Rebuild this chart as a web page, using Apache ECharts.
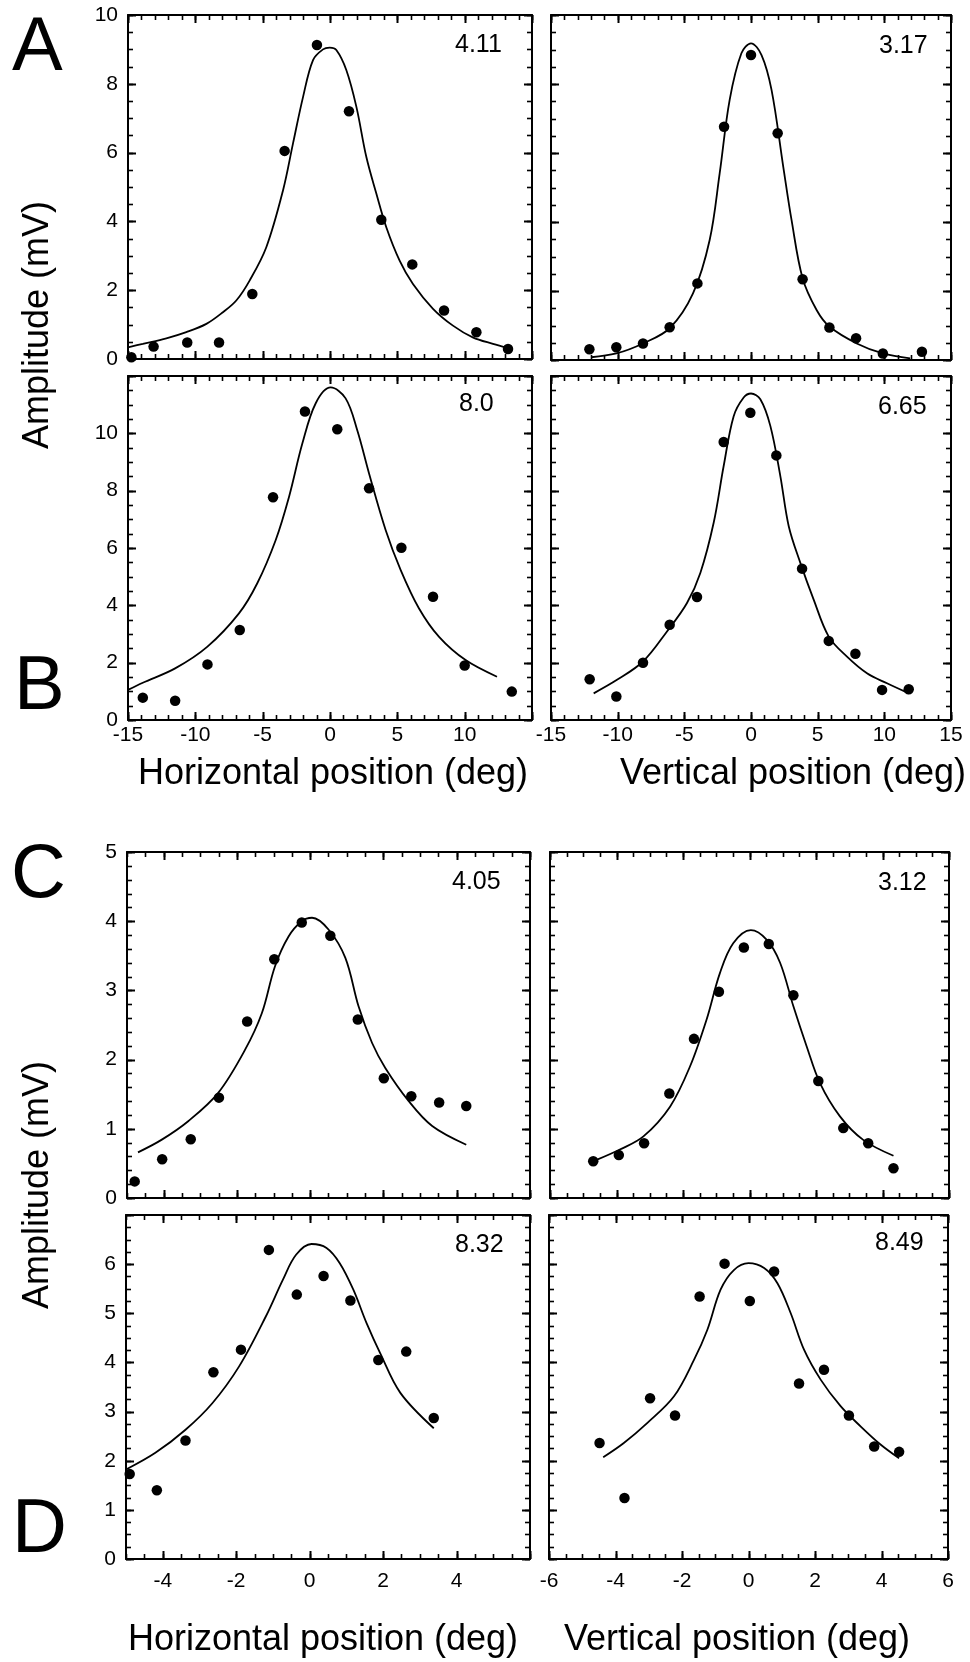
<!DOCTYPE html>
<html><head><meta charset="utf-8">
<script src="https://cdn.jsdelivr.net/npm/echarts@6/dist/echarts.min.js"></script>
<style>html,body{margin:0;padding:0;background:#fff}#c{width:970px;height:1662px}</style>
</head><body><div id="c"></div>
<script>
// ---------- DATA ----------
// Panel A (top row), horizontal and vertical position
const aHorPts = [[-14.75,0.05],[-13.1,0.36],[-10.6,0.48],[-8.24,0.48],[-5.77,1.89],[-3.37,6.05],[-0.97,9.13],[1.41,7.2],[3.81,4.05],[6.11,2.75],[8.47,1.41],[10.87,0.78],[13.22,0.29]];
const aHorFit = [[-15,0.34],[-13.9,0.44],[-12.15,0.6],[-10.67,0.78],[-9.18,1.02],[-7.95,1.36],[-6.96,1.7],[-5.97,2.28],[-4.73,3.25],[-3.49,4.9],[-2.75,6.26],[-2.0,7.62],[-1.26,8.69],[-0.52,9.0],[-0.02,9.05],[0.47,8.98],[1.21,8.4],[1.96,7.33],[2.7,5.87],[3.44,4.81],[4.18,3.83],[5.17,2.86],[6.16,2.18],[7.65,1.46],[9.13,0.97],[10.6,0.63],[12.1,0.44],[13.22,0.32]];
const aVerPts = [[-12.12,0.31],[-10.1,0.37],[-8.1,0.48],[-6.1,0.95],[-4.02,2.22],[-2.02,6.76],[0,8.84],[2.0,6.57],[3.87,2.34],[5.88,0.94],[7.88,0.63],[9.89,0.19],[12.82,0.24]];
const aVerFit = [[-12.0,0.08],[-10.1,0.19],[-8.1,0.48],[-6.1,0.92],[-4.35,1.93],[-3.1,3.48],[-2.35,5.41],[-1.6,7.54],[-0.72,8.89],[0,9.18],[0.79,8.84],[1.54,7.83],[2.42,5.6],[3.04,4.06],[3.87,2.37],[4.92,1.45],[5.88,0.97],[7.93,0.48],[9.89,0.19],[11.94,0.05]];
// Panel B
const bHorPts = [[-13.9,0.78],[-11.5,0.67],[-9.1,1.94],[-6.7,3.14],[-4.23,7.77],[-1.86,10.76],[0.54,10.14],[2.9,8.08],[5.3,6.01],[7.65,4.3],[10.0,1.9],[13.5,0.99]];
const bHorFit = [[-15,1.05],[-13.9,1.3],[-11.5,1.8],[-9.1,2.56],[-6.76,3.72],[-5.4,4.77],[-4.03,6.28],[-3.04,7.79],[-2.05,9.65],[-1.06,11.05],[0.05,11.6],[1.16,11.22],[2.03,10.1],[2.9,8.6],[4.13,6.63],[5.25,5.23],[6.6,3.9],[8.1,2.9],[10.07,2.09],[12.4,1.51]];
const bVerPts = [[-12.1,1.42],[-10.1,0.82],[-8.1,2.0],[-6.1,3.32],[-4.05,4.29],[-2.05,9.7],[-0.05,10.72],[1.9,9.23],[3.83,5.28],[5.83,2.76],[7.83,2.31],[9.83,1.05],[11.83,1.07]];
const bVerFit = [[-11.8,0.93],[-10.05,1.4],[-8.1,2.04],[-6.3,3.09],[-4.8,4.08],[-3.8,5.13],[-2.8,6.88],[-2.05,8.86],[-1.3,10.6],[-0.55,11.25],[0,11.39],[0.7,11.19],[1.45,10.26],[2.2,8.51],[2.83,6.76],[3.7,5.48],[4.7,4.2],[5.83,2.91],[7.2,2.21],[8.7,1.63],[10.2,1.28],[11.83,0.93]];
// Panel C
const cHorPts = [[-4.79,0.24],[-4.04,0.56],[-3.26,0.85],[-2.49,1.45],[-1.72,2.55],[-0.98,3.45],[-0.23,3.98],[0.55,3.79],[1.3,2.58],[2.01,1.73],[2.76,1.47],[3.52,1.38],[4.26,1.33]];
const cHorFit = [[-4.7,0.66],[-4.06,0.84],[-3.33,1.11],[-2.51,1.52],[-1.78,2.14],[-1.32,2.67],[-0.96,3.35],[-0.59,3.78],[-0.23,4.0],[0.05,4.05],[0.5,3.88],[0.96,3.47],[1.32,2.77],[1.69,2.24],[2.05,1.88],[2.69,1.4],[3.33,1.04],[4.26,0.77]];
const cVerPts = [[-4.7,0.53],[-3.93,0.62],[-3.17,0.79],[-2.41,1.51],[-1.67,2.3],[-0.92,2.98],[-0.17,3.62],[0.58,3.67],[1.32,2.93],[2.07,1.69],[2.82,1.01],[3.57,0.79],[4.33,0.43]];
const cVerFit = [[-4.6,0.55],[-3.9,0.7],[-3.19,0.89],[-2.39,1.32],[-1.79,1.9],[-1.29,2.58],[-0.89,3.25],[-0.49,3.68],[0.04,3.87],[0.52,3.73],[0.92,3.4],[1.32,2.77],[1.72,2.19],[2.12,1.66],[2.72,1.18],[3.42,0.84],[4.33,0.61]];
// Panel D
const dHorPts = [[-4.9,1.73],[-4.16,1.4],[-3.38,2.41],[-2.62,3.8],[-1.87,4.26],[-1.11,6.29],[-0.35,5.38],[0.38,5.76],[1.11,5.26],[1.87,4.05],[2.63,4.22],[3.38,2.87]];
const dHorFit = [[-5.0,1.82],[-4.2,2.16],[-3.38,2.63],[-2.65,3.17],[-1.92,3.92],[-1.19,4.94],[-0.73,5.68],[-0.37,6.19],[0.05,6.41],[0.46,6.33],[0.82,6.02],[1.19,5.48],[1.55,4.8],[1.92,4.19],[2.47,3.38],[3.38,2.66]];
const dVerPts = [[-4.48,2.36],[-3.73,1.24],[-2.96,3.27],[-2.21,2.92],[-1.47,5.34],[-0.72,6.01],[0.04,5.25],[0.77,5.85],[1.52,3.57],[2.27,3.85],[3.02,2.92],[3.78,2.29],[4.53,2.18]];
const dVerFit = [[-4.37,2.07],[-3.75,2.36],[-3.04,2.77],[-2.24,3.31],[-1.64,4.05],[-1.24,4.66],[-0.84,5.48],[-0.44,5.88],[0,6.02],[0.47,5.92],[0.87,5.61],[1.27,5.0],[1.67,4.26],[2.17,3.65],[2.77,3.11],[3.37,2.7],[3.97,2.33],[4.53,2.05]];

// Tick labels and major tick positions
const xLabelsWideL = [-15,-10,-5,0,5,10];
const xLabelsWideR = [-15,-10,-5,0,5,10,15];
const xMajorWide = [-15,-10,-5,0,5,10,15];
const xLabelsNarrowL = [-4,-2,0,2,4];
const xMajorNarrowL = [-4,-2,0,2,4,6];
const xLabelsNarrowR = [-6,-4,-2,0,2,4,6];
const yLabelsA = [0,2,4,6,8,10];
const yMajorA = [0,2,4,6,8,10];
const yLabelsB = [0,2,4,6,8,10];
const yMajorB = [0,2,4,6,8,10,12];
const yLabelsC = [0,1,2,3,4,5];
const yLabelsD = [0,1,2,3,4,5,6];
const yMajorD = [0,1,2,3,4,5,6,7];
const notes = ['4.11','3.17','8.0','6.65','4.05','3.12','8.32','8.49'];
const panelLetters = ['A','B','C','D'];
const xTitles = ['Horizontal position (deg)','Vertical position (deg)'];
const yTitle = 'Amplitude (mV)';

// ---------- BUILD ----------
const FONT = '"Liberation Sans", Arial, Helvetica, sans-serif';
const INK = '#000';
function rng(a,b,s){const r=[];for(let i=0; a+i*s<=b+1e-9; i++) r.push(+(a+i*s).toFixed(4)); return r;}

const panels = [
  {g:[128,15,404,344], x:[-15,15], xi:5, xT:xMajorWide, xm:1, xL:null, y:[0,10], yi:2, yT:yMajorA, ym:0.5, yL:yLabelsA, pts:aHorPts, fit:aHorFit, note:notes[0], nx:455, ny:45},
  {g:[551,15,400,345], x:[-15,15], xi:5, xT:xMajorWide, xm:1, xL:null, y:[0,10], yi:2, yT:yMajorA, ym:0.5, yL:null, pts:aVerPts, fit:aVerFit, note:notes[1], nx:879, ny:46},
  {g:[128,376,404,344], x:[-15,15], xi:5, xT:xMajorWide, xm:1, xL:xLabelsWideL, y:[0,12], yi:2, yT:yMajorB, ym:0.5, yL:yLabelsB, pts:bHorPts, fit:bHorFit, note:notes[2], nx:459, ny:404},
  {g:[551,376,400,344], x:[-15,15], xi:5, xT:xMajorWide, xm:1, xL:xLabelsWideR, y:[0,12], yi:2, yT:yMajorB, ym:0.5, yL:null, pts:bVerPts, fit:bVerFit, note:notes[3], nx:878, ny:407},
  {g:[127,852,403,346], x:[-5,6], xi:null, xT:xMajorNarrowL, xm:0.5, xL:null, y:[0,5], yi:1, yT:yLabelsC, ym:0.2, yL:yLabelsC, pts:cHorPts, fit:cHorFit, note:notes[4], nx:452, ny:882},
  {g:[550,852,399,346], x:[-6,6], xi:2, xT:xLabelsNarrowR, xm:0.5, xL:null, y:[0,5], yi:1, yT:yLabelsC, ym:0.2, yL:null, pts:cVerPts, fit:cVerFit, note:notes[5], nx:878, ny:883},
  {g:[126,1215,404,344], x:[-5,6], xi:null, xT:xMajorNarrowL, xm:0.5, xL:xLabelsNarrowL, y:[0,7], yi:1, yT:yMajorD, ym:0.25, yL:yLabelsD, pts:dHorPts, fit:dHorFit, note:notes[6], nx:455, ny:1245},
  {g:[549,1215,399,344], x:[-6,6], xi:2, xT:xLabelsNarrowR, xm:0.5, xL:xLabelsNarrowR, y:[0,7], yi:1, yT:yMajorD, ym:0.25, yL:null, pts:dVerPts, fit:dVerFit, note:notes[7], nx:875, ny:1243}
];

const grid=[], xAxis=[], yAxis=[], series=[], graphic=[];
const labelSt = {color:INK, fontSize:21, fontFamily:FONT};
const MAJ = 8, MIN = 5;

function mkAxis(kind, gi, pos, p, labs, margin){
  const ext = kind==='x' ? p.x : p.y;
  const iv = kind==='x' ? p.xi : p.yi;
  const a = {gridIndex:gi, type:'value', position:pos, min:ext[0], max:ext[1],
    splitLine:{show:false}, minorTick:{show:false}, minorSplitLine:{show:false},
    axisLine:{show:true, onZero:false, lineStyle:{color:INK, width:2}},
    axisTick:{show:false}};
  if (iv) a.interval = iv; else a.splitNumber = 5;
  a.axisLabel = labs ? Object.assign({show:true, margin:margin, showMinLabel:true, showMaxLabel:true, hideOverlap:false,
      formatter: v => { const r = Math.round(v*1000)/1000; return labs.indexOf(r) >= 0 ? String(r) : ''; }}, labelSt)
    : {show:false};
  return a;
}

// tick marks drawn through the axes' own scales
function renderTick(params, api){
  const v = api.value(0), side = api.value(1), len = api.value(2);
  const cs = params.coordSys;
  let x1,y1,x2,y2;
  if (side < 2){
    x1 = x2 = Math.round(api.coord([v, 0])[0]) + 0.5;
    if (side === 0){ y1 = cs.y + cs.height; y2 = y1 - len; } else { y1 = cs.y; y2 = y1 + len; }
  } else {
    y1 = y2 = Math.round(api.coord([0, v])[1]) + 0.5;
    if (side === 2){ x1 = cs.x; x2 = x1 + len; } else { x1 = cs.x + cs.width; x2 = x1 - len; }
  }
  return {type:'line', shape:{x1,y1,x2,y2}, style:{stroke:INK, lineWidth: len > 6 ? 2 : 1.6}};
}

panels.forEach((p,gi)=>{
  grid.push({left:p.g[0], top:p.g[1], width:p.g[2], height:p.g[3], containLabel:false});
  const xi = xAxis.length, yi = yAxis.length;
  xAxis.push(mkAxis('x', gi, 'bottom', p, p.xL, gi>=6 ? 12 : 5));
  xAxis.push(mkAxis('x', gi, 'top', p, null));
  yAxis.push(mkAxis('y', gi, 'left', p, p.yL, 10));
  yAxis.push(mkAxis('y', gi, 'right', p, null));

  const ticks = [];
  [0,1].forEach(s=>{
    p.xT.forEach(v=>ticks.push([v,s,MAJ]));
    rng(p.x[0],p.x[1],p.xm).forEach(v=>ticks.push([v,s,MIN]));
  });
  [2,3].forEach(s=>{
    p.yT.forEach(v=>ticks.push([v,s,MAJ]));
    rng(p.y[0],p.y[1],p.ym).forEach(v=>ticks.push([v,s,MIN]));
  });
  series.push({type:'custom', coordinateSystem:'cartesian2d', xAxisIndex:xi, yAxisIndex:yi, data:ticks,
    encode:{x:0, y:1}, renderItem:renderTick, silent:true, clip:false, z:4});

  series.push({type:'line', xAxisIndex:xi, yAxisIndex:yi, data:p.fit, smooth:0.35, showSymbol:false,
    lineStyle:{color:INK, width:1.8}, clip:true, silent:true, z:2});
  series.push({type:'scatter', xAxisIndex:xi, yAxisIndex:yi, data:p.pts, symbol:'circle', symbolSize:10.5,
    itemStyle:{color:INK, opacity:1}, silent:true, z:3});
  graphic.push({type:'text', x:p.nx, y:p.ny, style:{text:p.note, fill:INK, font:'25px '+FONT, textAlign:'left', textVerticalAlign:'middle'}});
});

// panel letters
const letterPos = [[12,49],[14,688],[11,876],[12,1531]];
panelLetters.forEach((t,i)=>graphic.push({type:'text', x:letterPos[i][0], y:letterPos[i][1],
  style:{text:t, fill:INK, font:'76px '+FONT, textAlign:'left', textVerticalAlign:'middle'}}));
// y titles
[[38,325],[38,1185]].forEach(c=>graphic.push({type:'text', x:c[0], y:c[1], rotation:Math.PI/2,
  style:{text:yTitle, fill:INK, font:'36px '+FONT, textAlign:'center', textVerticalAlign:'middle'}}));
// x titles
[[333,774,0],[793,774,1],[323,1640,0],[737,1640,1]].forEach(c=>graphic.push({type:'text', x:c[0], y:c[1],
  style:{text:xTitles[c[2]], fill:INK, font:'36px '+FONT, textAlign:'center', textVerticalAlign:'middle'}}));

const chart = echarts.init(document.getElementById('c'), null, {renderer:'canvas'});
chart.setOption({animation:false, backgroundColor:'#fff', grid, xAxis, yAxis, series, graphic});
</script></body></html>
